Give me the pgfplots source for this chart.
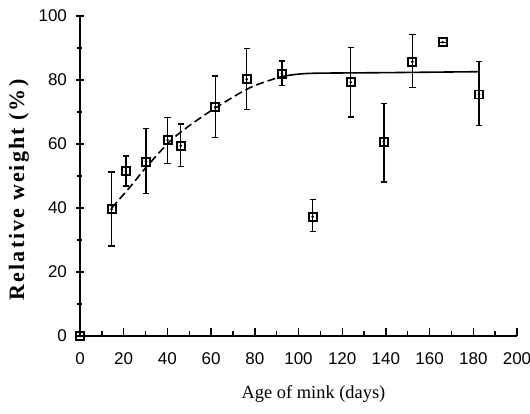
\documentclass[border=0pt]{standalone}
\usepackage{fontspec}
\setmainfont{Liberation Serif}
\newfontfamily\ticksf{Liberation Sans}
\newfontfamily\ylabfont[LetterSpace=9.5]{Liberation Serif}
\usepackage{pgfplots}
\usepackage{pgfplotstable}
\pgfplotsset{compat=1.18}

% Age (days), relative weight (%), upper and lower error
\pgfplotstableread{
x     y     ep    em
0     0     0     0
14.5  39.6  11.7  11.5
21.0  51.6  4.7   4.7
30.2  54.5  10.4  9.9
40.1  61.2  7.1   7.2
46.1  59.5  6.7   6.6
61.9  71.5  9.8   9.4
76.3  80.2  9.6   9.4
92.4  81.9  4.0   3.7
106.5 37.3  5.4   4.7
123.9 79.3  10.9  10.9
139.1 60.7  12.0  12.6
152.1 85.7  8.5   8.0
166.0 91.8  0     0
182.6 75.5  10.2  9.7
}\weights

% fitted growth curve, rising part
\pgfplotstableread{
x     y
14.5  40.0
19.0  43.5
23.7  47.2
30.5  52.9
42.7  61.8
58.0  69.5
76.3  77.1
88.5  80.3
92.0  81.0
}\rising

% fitted growth curve, plateau
\pgfplotstableread{
x     y
92.0  81.0
97.0  81.6
106.8 82.1
140.0 82.3
182.6 82.6
}\plateau

\begin{document}
\begin{tikzpicture}
\begin{axis}[
  at={(0,0)}, anchor=south west,
  scale only axis,
  width=218.5pt, height=160pt,
  xmin=0, xmax=200, ymin=0, ymax=100,
  axis lines=left,
  axis line style={-, line width=0.8pt},
  xtick={0,20,...,200}, ytick={0,20,...,100},
  minor xtick={10,30,...,190}, minor ytick={10,30,...,90},
  x tick style={line width=0.7pt, black},
  y tick style={line width=0.7pt, black},
  xtick align=inside, ytick align=center,
  major tick length=4pt, minor tick length=2.5pt,
  /pgf/number format/assume math mode=true,
  tick label style={font=\ticksf\fontsize{8.5}{10}\selectfont},
  xticklabel style={yshift=-5pt},
  yticklabel style={xshift=-1pt},
  xlabel={Age of mink (days)},
  ylabel={\textbf{Relative weight (\%)}},
  xlabel style={font=\fontsize{9.2}{11}\selectfont, at={(axis description cs:0.5,0)}, anchor=north, xshift=7.5pt, yshift=-21pt},
  ylabel style={font=\ylabfont\fontsize{11}{13}\selectfont, at={(axis description cs:0,0.46)}, anchor=south, yshift=22pt},
  clip=false,
]
\addplot[black, line width=0.8pt, dash pattern=on 4pt off 2pt, smooth] table[x=x, y=y] {\rising};
\addplot[black, line width=0.8pt, smooth] table[x=x, y=y] {\plateau};

\addplot[black, only marks, mark=square, mark size=2pt,
  mark options={line width=0.9pt, fill=white},
  error bars/.cd, y dir=both, y explicit,
  error bar style={line width=0.7pt},
  error mark options={rotate=90, mark size=1.6pt, line width=0.7pt}]
  table[x=x, y=y, y error plus=ep, y error minus=em] {\weights};

\addplot[black, only marks, mark=*, mark size=0.45pt] table[x=x, y=y] {\weights};
\end{axis}
\pgfresetboundingbox
\path[use as bounding box] (-40pt,-38.5pt) rectangle (225pt,168pt);
\end{tikzpicture}
\end{document}
